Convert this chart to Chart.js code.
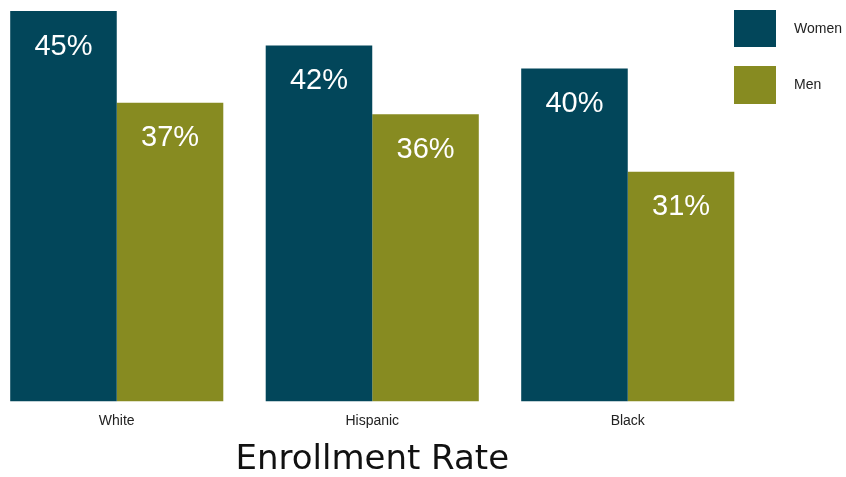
<!DOCTYPE html>
<html>
<head>
<meta charset="utf-8">
<script src="https://cdn.jsdelivr.net/npm/chart.js@4.4.1/dist/chart.umd.min.js"></script>
<style>
  html, body { margin: 0; padding: 0; background: #ffffff; overflow: hidden; }
  #wrap { position: absolute; left: -11px; top: 0; width: 860px; height: 477px; }
</style>
</head>
<body>
<div id="wrap"><canvas id="c" width="860" height="477"></canvas></div>
<script>
const categories = ["White", "Hispanic", "Black"];
const women = [45, 42, 40];
const men = [37, 36, 31];
const seriesNames = ["Women", "Men"];
const axisTitle = "Enrollment Rate";

const colors = ["#02465A", "#878B21"];
const OFFSET = 11; // canvas x = page x + OFFSET

const valueLabels = {
  id: 'valueLabels',
  afterDatasetsDraw(chart) {
    const ctx = chart.ctx;
    ctx.save();
    ctx.fillStyle = '#ffffff';
    ctx.font = '29px "Liberation Sans", Arial, sans-serif';
    ctx.textAlign = 'center';
    ctx.textBaseline = 'middle';
    chart.data.datasets.forEach((ds, i) => {
      chart.getDatasetMeta(i).data.forEach((bar, j) => {
        ctx.fillText(ds.data[j] + '%', bar.x, bar.y + 35.5);
      });
    });
    ctx.restore();
  }
};

const customLegend = {
  id: 'customLegend',
  afterDraw(chart) {
    const ctx = chart.ctx;
    ctx.save();
    const boxes = [[10, 47], [66, 104]];
    ctx.font = '14px "Liberation Sans", Arial, sans-serif';
    ctx.textBaseline = 'middle';
    ctx.textAlign = 'left';
    chart.data.datasets.forEach((ds, i) => {
      const [y0, y1] = boxes[i];
      ctx.fillStyle = ds.backgroundColor;
      ctx.fillRect(734 + OFFSET, y0, 42, y1 - y0);
      ctx.fillStyle = '#222222';
      ctx.fillText(ds.label, 794 + OFFSET, (y0 + y1) / 2 + 0.5);
    });
    ctx.restore();
  }
};

new Chart(document.getElementById('c'), {
  type: 'bar',
  data: {
    labels: categories,
    datasets: [
      { label: seriesNames[0], data: women, backgroundColor: colors[0] },
      { label: seriesNames[1], data: men, backgroundColor: colors[1] }
    ]
  },
  options: {
    responsive: false,
    animation: false,
    layout: { padding: { left: 0, right: 93.5, top: 11, bottom: 0 } },
    datasets: { bar: { barPercentage: 1.0, categoryPercentage: 0.834 } },
    plugins: { legend: { display: false }, tooltip: { enabled: false } },
    scales: {
      x: {
        grid: { display: false, drawTicks: false },
        border: { display: false },
        ticks: { color: '#222222', font: { family: '"Liberation Sans", Arial, sans-serif', size: 14 }, padding: 12 },
        title: { display: true, text: axisTitle, color: '#111111', font: { family: '"DejaVu Sans", sans-serif', size: 34, lineHeight: 1.0 }, padding: { top: 1, bottom: 0 } }
      },
      y: {
        display: false,
        min: 11,
        max: 45
      }
    }
  },
  plugins: [valueLabels, customLegend]
});
</script>
</body>
</html>
